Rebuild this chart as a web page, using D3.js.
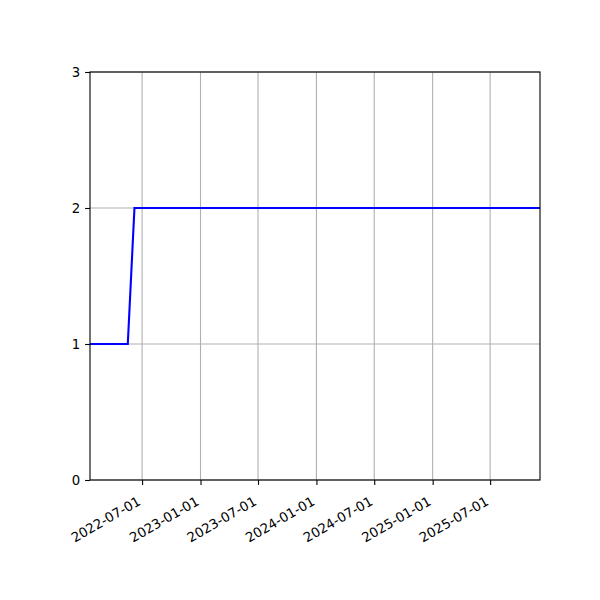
<!DOCTYPE html>
<html>
<head>
<meta charset="utf-8">
<script src="https://cdn.jsdelivr.net/npm/d3@7"></script>
<style>
  body { margin: 0; background: #fff; }
  svg text { font-family: "DejaVu Sans", sans-serif; font-size: 13.3px; fill: #000; }
</style>
</head>
<body>
<div id="chart"></div>
<script>
// data
const dates = ["2022-01-18", "2022-05-17", "2022-06-07", "2025-12-05"];
const values = [1, 1, 2, 2];
const xTicks = ["2022-07-01", "2023-01-01", "2023-07-01", "2024-01-01", "2024-07-01", "2025-01-01", "2025-07-01"];
const yTicks = [0, 1, 2, 3];

const parse = d3.utcParse("%Y-%m-%d");
const data = dates.map((d, i) => ({date: parse(d), value: values[i]}));

var margin = {top: 72, right: 60, bottom: 120, left: 90},
    width = 600 - margin.left - margin.right,
    height = 600 - margin.top - margin.bottom;

const svg = d3.select("#chart").append("svg")
    .attr("width", 600)
    .attr("height", 600);

const g = svg.append("g")
    .attr("transform", "translate(" + margin.left + "," + margin.top + ")");

const x = d3.scaleUtc()
    .domain(d3.extent(data, d => d.date))
    .range([0, width]);

const y = d3.scaleLinear()
    .domain([0, 3])
    .range([height, 0]);

const tickDates = xTicks.map(parse);

// grid
g.append("g")
    .selectAll("line")
    .data(tickDates)
    .enter().append("line")
    .attr("x1", d => x(d)).attr("x2", d => x(d))
    .attr("y1", 0).attr("y2", height)
    .attr("stroke", "#b0b0b0").attr("stroke-width", 1.1);

g.append("g")
    .selectAll("line")
    .data(yTicks)
    .enter().append("line")
    .attr("x1", 0).attr("x2", width)
    .attr("y1", d => y(d)).attr("y2", d => y(d))
    .attr("stroke", "#b0b0b0").attr("stroke-width", 1.1);

// line
const line = d3.line()
    .x(d => x(d.date))
    .y(d => y(d.value));

g.append("path")
    .datum(data)
    .attr("fill", "none")
    .attr("stroke", "#0000ff")
    .attr("stroke-width", 2.1)
    .attr("d", line);

// axes
const xAxis = g.append("g")
    .attr("transform", "translate(0," + height + ")")
    .call(d3.axisBottom(x).tickValues(tickDates).tickSize(4.9).tickPadding(4.9).tickFormat(d3.utcFormat("%Y-%m-%d")));
xAxis.select(".domain").remove();
xAxis.selectAll(".tick line").attr("stroke", "#000").attr("stroke-width", 1.1);
xAxis.selectAll(".tick text")
    .attr("font-size", null)
    .style("text-anchor", "end")
    .attr("y", 0).attr("dy", null)
    .attr("transform", "translate(-1,24) rotate(-30)");

const yAxis = g.append("g")
    .call(d3.axisLeft(y).tickValues(yTicks).tickSize(4.9).tickPadding(4.9).tickFormat(d3.format("d")));
yAxis.select(".domain").remove();
yAxis.selectAll(".tick line").attr("stroke", "#000").attr("stroke-width", 1.1);
yAxis.selectAll(".tick text").attr("font-size", null);
svg.selectAll(".tick text").attr("font-family", null);

// frame
g.append("rect")
    .attr("width", width).attr("height", height)
    .attr("fill", "none")
    .attr("stroke", "#000").attr("stroke-width", 1.1);
</script>
</body>
</html>
